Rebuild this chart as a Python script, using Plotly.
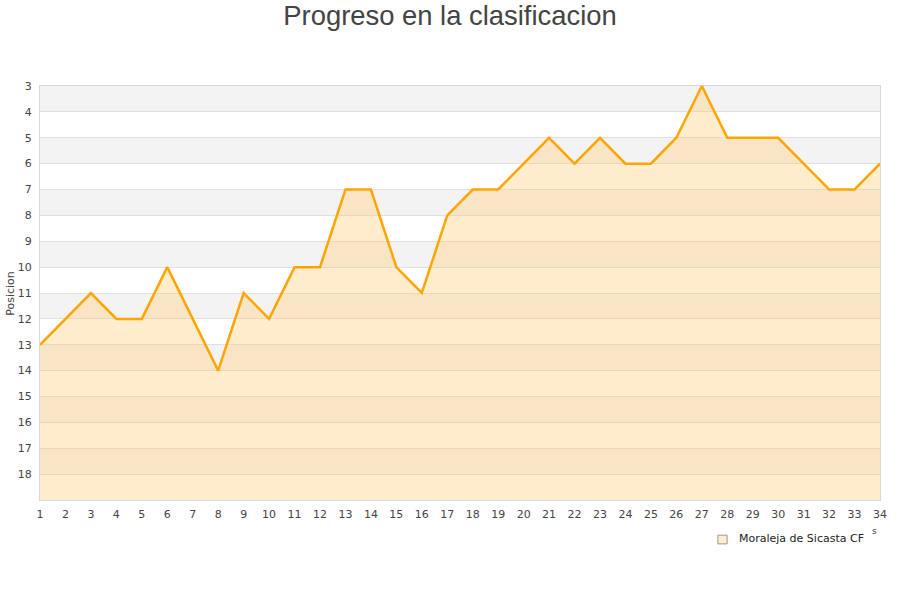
import plotly.graph_objects as go

jornadas = list(range(1, 35))
posicion = [13, 12, 11, 12, 12, 10, 12, 14, 11, 12, 10, 10, 7, 7, 10, 11, 8, 7, 7, 6,
            5, 6, 5, 6, 6, 5, 3, 5, 5, 5, 6, 7, 7, 6]
equipo = "Moraleja de Sicasta CF"
titulo = "Progreso en la clasificacion"
y_top, y_bottom = 3, 19
y_ticks = list(range(3, 19))

fig = go.Figure()
fig.add_trace(go.Scatter(x=jornadas, y=[y_bottom] * len(jornadas), mode="lines",
                         line=dict(width=0), showlegend=False, hoverinfo="skip"))
fig.add_trace(go.Scatter(x=jornadas, y=posicion, mode="lines", fill="tonexty",
                         fillcolor="rgba(255,201,102,0.33)",
                         line=dict(color="#ffa500", width=2.5), showlegend=False, name=equipo))

shapes = []
for k in range(3, 18, 2):
    shapes.append(dict(type="rect", xref="paper", yref="y", x0=0, x1=1, y0=k, y1=k + 1,
                       fillcolor="#f3f3f3", line=dict(width=0), layer="below"))
# legend swatch
shapes.append(dict(type="rect", xref="paper", yref="paper", x0=0.807, x1=0.818,
                   y0=-0.106, y1=-0.085, fillcolor="#ffedcc",
                   line=dict(color="#999999", width=1)))

fig.update_layout(
    width=900, height=600,
    margin=dict(l=40, r=20, t=86, b=100),
    paper_bgcolor="white", plot_bgcolor="white",
    title=dict(text=titulo, x=0.5, xanchor="center", y=0.975, yanchor="middle",
               font=dict(family="Liberation Sans, Arial", size=27.4, color="#444444")),
    font=dict(family="DejaVu Sans", size=11, color="#444444"),
    shapes=shapes,
    showlegend=False,
    annotations=[
        dict(text="Posicion", xref="paper", yref="paper", x=-0.036, y=0.5, xanchor="center",
             yanchor="middle", textangle=-90, showarrow=False, font=dict(size=11, color="#444444")),
        dict(text=equipo, xref="paper", yref="paper", x=0.8298, y=-0.094, xanchor="left",
             yanchor="middle", showarrow=False, font=dict(size=11, color="#222222")),
        dict(text="s", xref="paper", yref="paper", x=0.994, y=-0.075, xanchor="center",
             yanchor="middle", showarrow=False, font=dict(size=9, color="#444444")),
    ],
)
fig.update_xaxes(range=[1, 34], tickmode="array", tickvals=jornadas, ticktext=[str(j) for j in jornadas],
                 showgrid=False, zeroline=False, showline=True, linecolor="#d9d9d9", linewidth=1,
                 mirror=True, ticks="", ticklabelstandoff=4, tickfont=dict(size=11, color="#444444"))
fig.update_yaxes(range=[y_bottom, y_top], tickmode="array", tickvals=y_ticks,
                 ticktext=[str(t) for t in y_ticks],
                 showgrid=True, gridcolor="#e0e0e0", gridwidth=1, zeroline=False,
                 showline=True, linecolor="#d9d9d9", linewidth=1, mirror=True, ticks="",
                 ticklabelstandoff=5, tickfont=dict(size=11, color="#444444"))

fig.write_html("out.html", config={"displayModeBar": False},
               post_script="document.body.style.margin='0px';")
